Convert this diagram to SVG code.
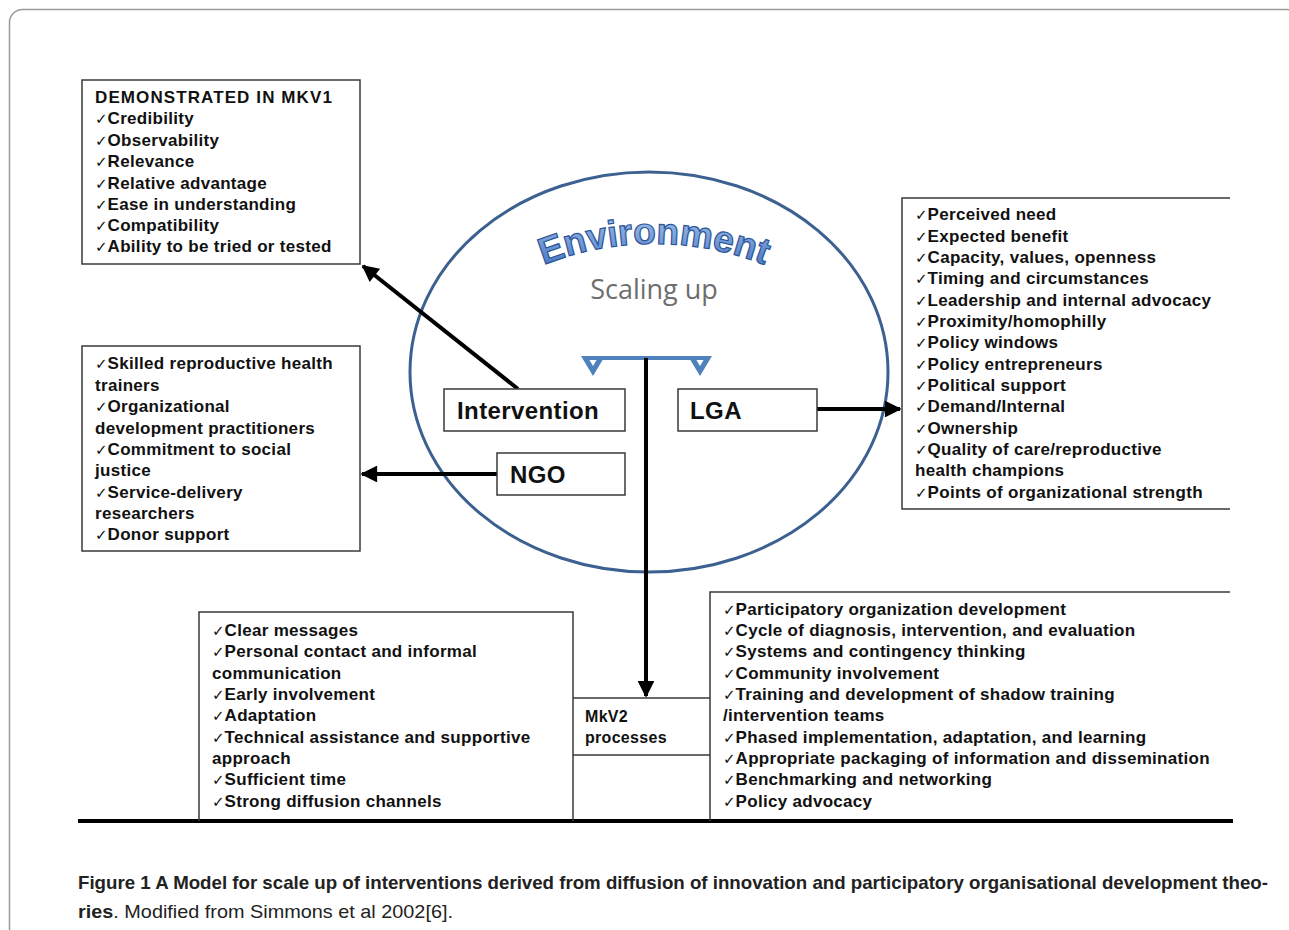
<svg xmlns="http://www.w3.org/2000/svg" width="1289" height="930" viewBox="0 0 1289 930">
<defs>
<style>
.box{fill:#fff;stroke:#3a3a3a;stroke-width:1.5}
.edge{fill:none;stroke:#3a3a3a;stroke-width:1.5}
.t{font-family:"Liberation Sans",Arial,sans-serif;font-weight:bold;font-size:17px;letter-spacing:0.3px;fill:#111}
.ck{font-family:"DejaVu Sans",sans-serif;font-weight:normal;font-size:15px;letter-spacing:0}
.big{font-family:"Liberation Sans",Arial,sans-serif;font-weight:bold;font-size:24px;letter-spacing:0.4px;fill:#111}
.conn{stroke:#000;stroke-width:4;fill:none}
.cap{font-family:"Liberation Sans Narrow","Liberation Sans",Arial,sans-serif;font-size:19px;fill:#222}
</style>
<marker id="ah" viewBox="0 0 10 10" refX="9" refY="5" markerWidth="4.5" markerHeight="4.2" orient="auto" markerUnits="strokeWidth">
<path d="M0,0 L10,5 L0,10 Z" fill="#000"/>
</marker>
<linearGradient id="envg" x1="0" y1="0" x2="0" y2="1">
<stop offset="0" stop-color="#a9c6ee"/>
<stop offset="1" stop-color="#3d6fc0"/>
</linearGradient>
<path id="arc" d="M 515 278 A 300 300 0 0 1 793 278"/>
</defs>

<rect x="9.5" y="9.5" width="1290" height="980" rx="13" fill="none" stroke="#9a9a9a" stroke-width="1.5"/>

<g id="environment">
<ellipse cx="649" cy="372" rx="239" ry="200" fill="none" stroke="#3c6190" stroke-width="3"/>
<text font-family="'Liberation Sans',Arial,sans-serif" font-weight="bold" font-size="37" fill="url(#envg)" stroke="#2c5597" stroke-width="1.2" text-anchor="middle"><textPath href="#arc" startOffset="50%">Environment</textPath></text>
<text x="654" y="299" font-family="'Open Sans',Lato,sans-serif" font-size="27" fill="#6e6e6e" text-anchor="middle">Scaling up</text>
</g>

<g id="connectors">
<line x1="585" y1="358" x2="708" y2="358" stroke="#4f81bd" stroke-width="4"/>
<path d="M581 356 L593 376 L605 356 L599 356 L593 366 L587 356 Z" fill="#4f81bd"/>
<path d="M688 356 L700 376 L712 356 L706 356 L700 366 L694 356 Z" fill="#4f81bd"/>
<line class="conn" x1="646" y1="358" x2="646" y2="696" marker-end="url(#ah)"/>
<line class="conn" x1="518" y1="389" x2="363" y2="266" marker-end="url(#ah)"/>
<line class="conn" x1="497" y1="474" x2="362" y2="474" marker-end="url(#ah)"/>
<line class="conn" x1="817" y1="409" x2="900" y2="409" marker-end="url(#ah)"/>
<line x1="78" y1="821" x2="1233" y2="821" stroke="#000" stroke-width="4"/>
</g>

<g id="intervention">
<rect class="box" x="444" y="389" width="181" height="42"/>
<text class="big" x="457" y="419">Intervention</text>
</g>
<g id="lga">
<rect class="box" x="678" y="389" width="139" height="42"/>
<text class="big" x="690" y="419">LGA</text>
</g>
<g id="ngo">
<rect class="box" x="497" y="453" width="128" height="42"/>
<text class="big" x="510" y="483">NGO</text>
</g>

<g id="mkv1">
<rect class="box" x="82" y="80" width="278" height="184"/>
<text class="t" x="95" y="103" style="letter-spacing:1.1px">DEMONSTRATED IN MKV1</text>
<text class="t" x="95" y="124"><tspan class="ck">✓</tspan>Credibility</text>
<text class="t" x="95" y="146"><tspan class="ck">✓</tspan>Observability</text>
<text class="t" x="95" y="167"><tspan class="ck">✓</tspan>Relevance</text>
<text class="t" x="95" y="189"><tspan class="ck">✓</tspan>Relative advantage</text>
<text class="t" x="95" y="210"><tspan class="ck">✓</tspan>Ease in understanding</text>
<text class="t" x="95" y="231"><tspan class="ck">✓</tspan>Compatibility</text>
<text class="t" x="95" y="252"><tspan class="ck">✓</tspan>Ability to be tried or tested</text>
</g>

<g id="ngo-list">
<rect class="box" x="82" y="346" width="278" height="205"/>
<text class="t" x="95" y="369"><tspan class="ck">✓</tspan>Skilled reproductive health</text>
<text class="t" x="95" y="391">trainers</text>
<text class="t" x="95" y="412"><tspan class="ck">✓</tspan>Organizational</text>
<text class="t" x="95" y="434">development practitioners</text>
<text class="t" x="95" y="455"><tspan class="ck">✓</tspan>Commitment to social</text>
<text class="t" x="95" y="476">justice</text>
<text class="t" x="95" y="498"><tspan class="ck">✓</tspan>Service-delivery</text>
<text class="t" x="95" y="519">researchers</text>
<text class="t" x="95" y="540"><tspan class="ck">✓</tspan>Donor support</text>
</g>

<g id="lga-list">
<path class="edge" d="M1230 198 H902 V509 H1230"/>
<text class="t" x="915" y="220"><tspan class="ck">✓</tspan>Perceived need</text>
<text class="t" x="915" y="242"><tspan class="ck">✓</tspan>Expected benefit</text>
<text class="t" x="915" y="263"><tspan class="ck">✓</tspan>Capacity, values, openness</text>
<text class="t" x="915" y="284"><tspan class="ck">✓</tspan>Timing and circumstances</text>
<text class="t" x="915" y="306"><tspan class="ck">✓</tspan>Leadership and internal advocacy</text>
<text class="t" x="915" y="327"><tspan class="ck">✓</tspan>Proximity/homophilly</text>
<text class="t" x="915" y="348"><tspan class="ck">✓</tspan>Policy windows</text>
<text class="t" x="915" y="370"><tspan class="ck">✓</tspan>Policy entrepreneurs</text>
<text class="t" x="915" y="391"><tspan class="ck">✓</tspan>Political support</text>
<text class="t" x="915" y="412"><tspan class="ck">✓</tspan>Demand/Internal</text>
<text class="t" x="915" y="434"><tspan class="ck">✓</tspan>Ownership</text>
<text class="t" x="915" y="455"><tspan class="ck">✓</tspan>Quality of care/reproductive</text>
<text class="t" x="915" y="476">health champions</text>
<text class="t" x="915" y="498"><tspan class="ck">✓</tspan>Points of organizational strength</text>
</g>

<g id="diffusion">
<path class="edge" d="M199 821 V612 H573 V821"/>
<text class="t" x="212" y="636"><tspan class="ck">✓</tspan>Clear messages</text>
<text class="t" x="212" y="657"><tspan class="ck">✓</tspan>Personal contact and informal</text>
<text class="t" x="212" y="679">communication</text>
<text class="t" x="212" y="700"><tspan class="ck">✓</tspan>Early involvement</text>
<text class="t" x="212" y="721"><tspan class="ck">✓</tspan>Adaptation</text>
<text class="t" x="212" y="743"><tspan class="ck">✓</tspan>Technical assistance and supportive</text>
<text class="t" x="212" y="764">approach</text>
<text class="t" x="212" y="785"><tspan class="ck">✓</tspan>Sufficient time</text>
<text class="t" x="212" y="807"><tspan class="ck">✓</tspan>Strong diffusion channels</text>
</g>

<g id="mkv2">
<path class="edge" d="M573 698 H710 M573 755 H710"/>
<text class="t" x="585" y="722" style="font-size:16px">MkV2</text>
<text class="t" x="585" y="743" style="font-size:16px">processes</text>
</g>

<g id="od-list">
<path class="edge" d="M710 821 V592 H1230"/>
<text class="t" x="723" y="615"><tspan class="ck">✓</tspan>Participatory organization development</text>
<text class="t" x="723" y="636"><tspan class="ck">✓</tspan>Cycle of diagnosis, intervention, and evaluation</text>
<text class="t" x="723" y="657"><tspan class="ck">✓</tspan>Systems and contingency thinking</text>
<text class="t" x="723" y="679"><tspan class="ck">✓</tspan>Community involvement</text>
<text class="t" x="723" y="700"><tspan class="ck">✓</tspan>Training and development of shadow training</text>
<text class="t" x="723" y="721">/intervention teams</text>
<text class="t" x="723" y="743"><tspan class="ck">✓</tspan>Phased implementation, adaptation, and learning</text>
<text class="t" x="723" y="764"><tspan class="ck">✓</tspan>Appropriate packaging of information and dissemination</text>
<text class="t" x="723" y="785"><tspan class="ck">✓</tspan>Benchmarking and networking</text>
<text class="t" x="723" y="807"><tspan class="ck">✓</tspan>Policy advocacy</text>
</g>

<g id="caption">
<text class="cap" x="78" y="889" font-weight="bold" textLength="1190" lengthAdjust="spacingAndGlyphs">Figure 1 A Model for scale up of interventions derived from diffusion of innovation and participatory organisational development theo-</text>
<text class="cap" x="78" y="918" textLength="375" lengthAdjust="spacingAndGlyphs"><tspan font-weight="bold">ries</tspan>. Modified from Simmons et al 2002[6].</text>
</g>
</svg>
